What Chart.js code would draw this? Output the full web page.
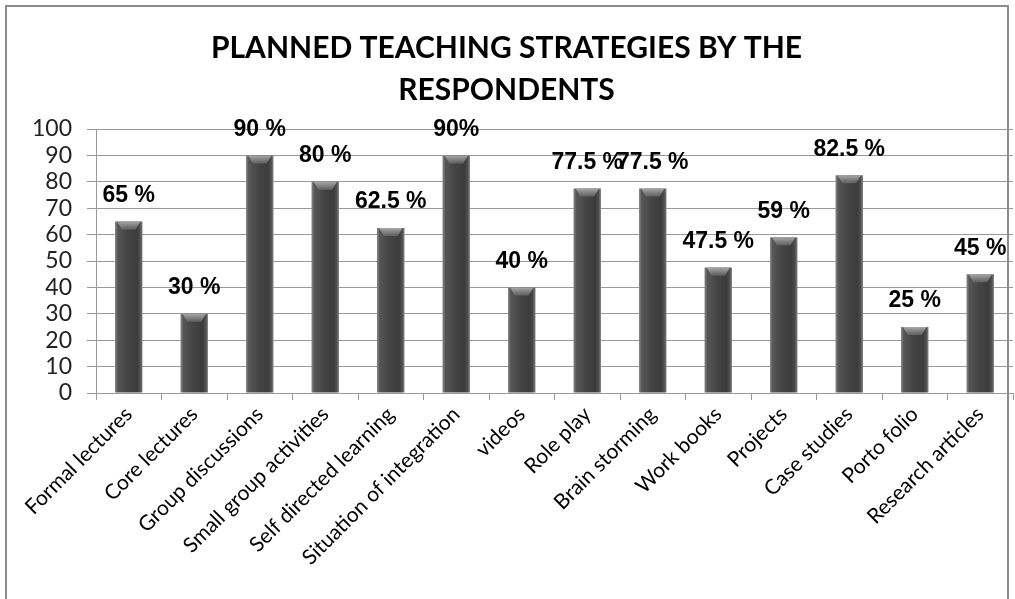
<!DOCTYPE html>
<html>
<head>
<meta charset="utf-8">
<script src="https://cdn.jsdelivr.net/npm/chart.js@4.4.0/dist/chart.umd.min.js"></script>
<style>
    html, body { margin: 0; padding: 0; background: #fff; overflow: hidden; }
    #wrap { position: relative; width: 1015px; height: 599px; }
    #frame { position: absolute; left: 5px; top: 5px; width: 1004px; height: 600px; border: 2px solid #8c8c8c; box-sizing: border-box; pointer-events: none; }
</style>
</head>
<body>
<div id="wrap">
    <canvas id="grafica" width="1015" height="599"></canvas>
    <div id="frame"></div>
</div>
<script>
// Datos de la gráfica
const categorias = [
    "Formal lectures", "Core lectures", "Group discussions", "Small group activities",
    "Self directed learning", "Situation of integration", "videos", "Role play",
    "Brain storming", "Work books", "Projects", "Case studies", "Porto folio", "Research articles"
];
const valores = [65, 30, 90, 80, 62.5, 90, 40, 77.5, 77.5, 47.5, 59, 82.5, 25, 45];
const etiquetas = ["65 %", "30 %", "90 %", "80 %", "62.5 %", "90%", "40 %", "77.5 %", "77.5 %", "47.5 %", "59 %", "82.5 %", "25 %", "45 %"];
const titulo = ["PLANNED TEACHING STRATEGIES BY THE", "RESPONDENTS"];

const ANCHO_CAT = 0.42;

// Degradado horizontal para cada barra (efecto cilindro)
function colorBarra(context) {
    const chart = context.chart;
    const x = chart.scales && chart.scales.x;
    if (!x || !chart.chartArea) return "#454545";
    const centro = x.getPixelForValue(context.dataIndex);
    const w = (x.width / categorias.length) * ANCHO_CAT;
    const g = chart.ctx.createLinearGradient(centro - w / 2, 0, centro + w / 2, 0);
    g.addColorStop(0, "#8a8a8a");
    g.addColorStop(0.1, "#565656");
    g.addColorStop(0.45, "#444444");
    g.addColorStop(0.8, "#3c3c3c");
    g.addColorStop(0.92, "#505050");
    g.addColorStop(1, "#8a8a8a");
    return g;
}

// Plugin: bisel superior y etiquetas de valor
const etiquetasPlugin = {
    id: "etiquetasValor",
    afterDatasetsDraw(chart) {
        const ctx = chart.ctx;
        const meta = chart.getDatasetMeta(0);
        ctx.save();
        meta.data.forEach((bar, i) => {
            const w = bar.width;
            const g = ctx.createLinearGradient(0, bar.y, 0, bar.y + 8);
            g.addColorStop(0, "rgba(175,175,175,0.95)");
            g.addColorStop(1, "rgba(110,110,110,0.7)");
            ctx.beginPath();
            ctx.moveTo(bar.x - w / 2 + 2, bar.y);
            ctx.lineTo(bar.x + w / 2 - 2, bar.y);
            ctx.lineTo(bar.x + w / 4, bar.y + 8);
            ctx.lineTo(bar.x - w / 4, bar.y + 8);
            ctx.closePath();
            ctx.fillStyle = g;
            ctx.fill();

            ctx.font = "bold 23px 'Liberation Sans', Arial, sans-serif";
            ctx.fillStyle = "#000";
            ctx.textAlign = "center";
            ctx.textBaseline = "middle";
            ctx.fillText(etiquetas[i], bar.x, bar.y - 26);
        });
        ctx.restore();
    }
};

const ctx = document.getElementById("grafica").getContext("2d");

new Chart(ctx, {
    type: "bar",
    data: {
        labels: categorias,
        datasets: [{
            data: valores,
            backgroundColor: colorBarra,
            borderWidth: 0,
            barPercentage: 1,
            categoryPercentage: ANCHO_CAT
        }]
    },
    options: {
        responsive: false,
        animation: false,
        layout: { padding: { left: 0, right: 2, top: 27, bottom: 0 } },
        plugins: {
            legend: { display: false },
            tooltip: { enabled: false },
            title: {
                display: true,
                text: titulo,
                color: "#000",
                font: { family: "Lato, 'Open Sans', sans-serif", size: 30, weight: "bold", lineHeight: 1.4 },
                padding: { top: 0, bottom: 18 }
            }
        },
        scales: {
            x: {
                grid: {
                    display: true,
                    drawOnChartArea: false,
                    drawTicks: true,
                    tickLength: 7,
                    color: "#999999",
                    offset: true
                },
                border: { color: "#999999" },
                ticks: {
                    color: "#000",
                    font: { family: "Lato, sans-serif", size: 21 },
                    maxRotation: 45,
                    minRotation: 45,
                    autoSkip: false,
                    padding: 2
                },
                afterFit(scale) { scale.height = 206; }
            },
            y: {
                min: 0,
                max: 100,
                ticks: {
                    stepSize: 10,
                    autoSkip: false,
                    color: "#222",
                    font: { family: "Lato, sans-serif", size: 23 },
                    padding: 15
                },
                grid: { color: "#999999", drawTicks: true, tickLength: 9 },
                border: { color: "#999999" },
                afterFit(scale) { scale.width = 96; }
            }
        }
    },
    plugins: [etiquetasPlugin]
});
</script>
</body>
</html>
